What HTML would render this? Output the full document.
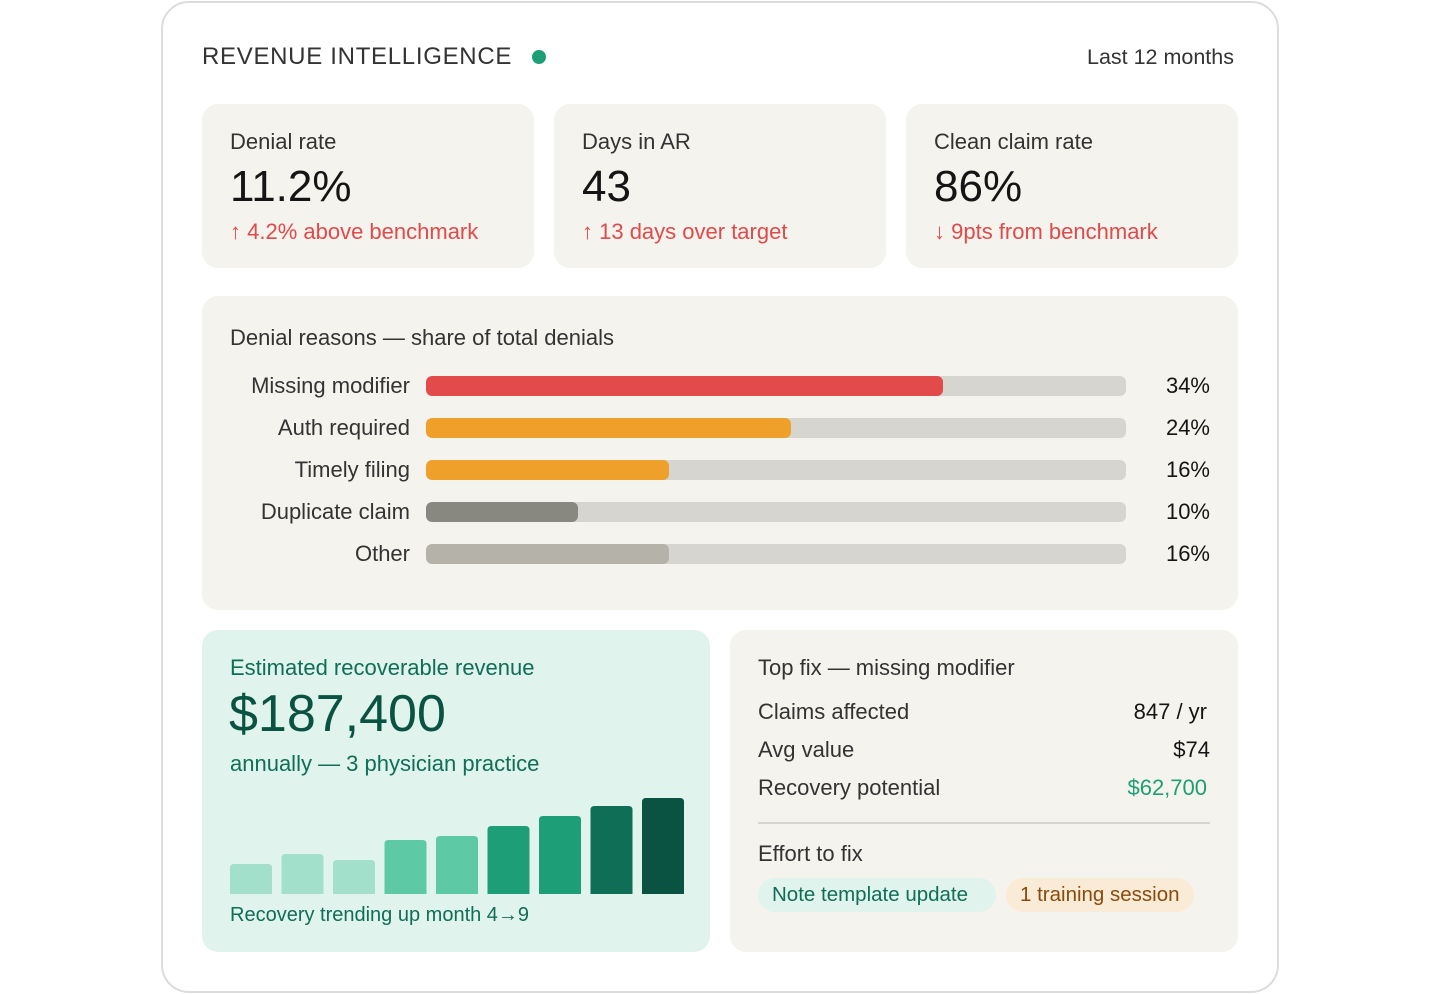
<!DOCTYPE html>
<html><head><meta charset="utf-8">
<style>
*{margin:0;padding:0;box-sizing:border-box}
body{width:1440px;height:994px;background:#fff;font-family:"Liberation Sans",Arial,sans-serif;position:relative;overflow:hidden}
.a{position:absolute;white-space:nowrap}
.card{position:absolute;background:#f4f3ed;border-radius:16px}
</style></head><body>
<div class="a" style="left:161px;top:1px;width:1118px;height:992px;border:2px solid #dcdcdc;border-radius:28px"></div>
<div class="a" style="left:202px;top:43px;font-size:24px;letter-spacing:0.7px;color:#333;line-height:28px">REVENUE INTELLIGENCE</div>
<div class="a" style="left:532px;top:50px;width:14px;height:14px;border-radius:50%;background:#1e9e76"></div>
<div class="a" style="right:206px;top:44px;font-size:21.5px;color:#333;line-height:26px">Last 12 months</div>

<div class="card" style="left:202px;top:104px;width:332px;height:164px">
 <div class="a" style="left:28px;top:25px;font-size:22px;color:#333">Denial rate</div>
 <div class="a" style="left:28px;top:58px;font-size:44px;color:#151515">11.2%</div>
 <div class="a" style="left:28px;top:115px;font-size:22px;color:#e04a4a">↑ 4.2% above benchmark</div>
</div>
<div class="card" style="left:554px;top:104px;width:332px;height:164px">
 <div class="a" style="left:28px;top:25px;font-size:22px;color:#333">Days in AR</div>
 <div class="a" style="left:28px;top:58px;font-size:44px;color:#151515">43</div>
 <div class="a" style="left:28px;top:115px;font-size:22px;color:#e04a4a">↑ 13 days over target</div>
</div>
<div class="card" style="left:906px;top:104px;width:332px;height:164px">
 <div class="a" style="left:28px;top:25px;font-size:22px;color:#333">Clean claim rate</div>
 <div class="a" style="left:28px;top:58px;font-size:44px;color:#151515">86%</div>
 <div class="a" style="left:28px;top:115px;font-size:22px;color:#e04a4a">↓ 9pts from benchmark</div>
</div>

<div class="card" style="left:202px;top:296px;width:1036px;height:314px">
 <div class="a" style="left:28px;top:29px;font-size:22px;color:#333">Denial reasons — share of total denials</div>
 <div id="rows"></div>
</div>

<div class="card" style="left:202px;top:630px;width:508px;height:322px;background:#e0f3ec">
 <div class="a" style="left:28px;top:25px;font-size:22px;color:#0f6e56">Estimated recoverable revenue</div>
 <div class="a" style="left:27px;top:54px;font-size:52px;color:#0a5241">$187,400</div>
 <div class="a" style="left:28px;top:121px;font-size:22px;color:#0f6e56">annually — 3 physician practice</div>
 <svg id="trend" class="a" style="left:0;top:150px" width="508" height="120"></svg>
 <div class="a" style="left:28px;top:274px;font-size:20px;color:#0f6e56">Recovery trending up month 4→9</div>
</div>

<div class="card" style="left:730px;top:630px;width:508px;height:322px">
 <div class="a" style="left:28px;top:25px;font-size:22px;color:#333">Top fix — missing modifier</div>
 <div class="a" style="left:28px;top:69px;font-size:22px;color:#333">Claims affected</div>
 <div class="a" style="right:31px;top:69px;font-size:22px;color:#151515">847 / yr</div>
 <div class="a" style="left:28px;top:107px;font-size:22px;color:#333">Avg value</div>
 <div class="a" style="right:28px;top:107px;font-size:22px;color:#151515">$74</div>
 <div class="a" style="left:28px;top:145px;font-size:22px;color:#333">Recovery potential</div>
 <div class="a" style="right:31px;top:145px;font-size:22px;color:#1e9e76">$62,700</div>
 <div class="a" style="left:28px;top:192px;width:452px;height:2px;background:#d6d5cf"></div>
 <div class="a" style="left:28px;top:211px;font-size:22px;color:#333">Effort to fix</div>
 <div class="a" style="left:28px;top:248px;width:238px;height:34px;border-radius:17px;background:#e0f3ec;color:#0f6e56;font-size:20.5px;line-height:34px;padding-left:14px">Note template update</div>
 <div class="a" style="left:276px;top:248px;width:188px;height:34px;border-radius:17px;background:#faebd7;color:#8a4a0c;font-size:20.5px;line-height:34px;padding-left:14px">1 training session</div>
</div>

<script>
const reasons=["Missing modifier","Auth required","Timely filing","Duplicate claim","Other"];
const shares=[34,24,16,10,16];
const barColors=["#e24b4a","#efa02a","#efa02a","#888780","#b4b2a9"];
const scaleMax=46;
const rows=document.getElementById('rows');
const trackW=700;
reasons.forEach((r,i)=>{
 const top=80+i*42;
 const lab=document.createElement('div');
 lab.className='a';
 
 
 lab.style.cssText=`right:${1036-208}px;top:${top-3}px;font-size:22px;color:#333`;
 lab.textContent=r;rows.appendChild(lab);
 const tr=document.createElement('div');
 tr.className='a';
 
 
 tr.style.cssText=`left:224px;top:${top}px;width:${trackW}px;height:20px;border-radius:6px;background:#d6d5cf;overflow:hidden`;
 const f=document.createElement('div');
 
 
 f.style.cssText=`width:${shares[i]/scaleMax*trackW}px;height:20px;border-radius:6px;background:${barColors[i]}`;
 tr.appendChild(f);rows.appendChild(tr);
 const v=document.createElement('div');
 v.className='a';
 
 
 v.style.cssText=`right:28px;top:${top-3}px;font-size:22px;color:#151515`;
 v.textContent=shares[i]+'%';rows.appendChild(v);
});
const months=[1,2,3,4,5,6,7,8,9];
const recovery=[30,40,34,54,58,68,78,88,96];
const trendColors=["#a3e0cb","#a3e0cb","#a3e0cb","#5ecaa5","#5ecaa5","#1e9e76","#1e9e76","#0f6e56","#0a5241"];
const svg=document.getElementById('trend');
const base=114, yScale=v=>v*1.0, xPos=i=>28+i*51.5;
months.forEach((m,i)=>{
 const h=yScale(recovery[i]);
 const p=document.createElementNS('http://www.w3.org/2000/svg','path');
 const x=xPos(i),w=42,y=base-h,r=4;
 p.setAttribute('d',`M${x},${base}V${y+r}Q${x},${y} ${x+r},${y}H${x+w-r}Q${x+w},${y} ${x+w},${y+r}V${base}Z`);
 p.setAttribute('fill',trendColors[i]);
 
 
 svg.appendChild(p);
});
</script>
</body></html>
